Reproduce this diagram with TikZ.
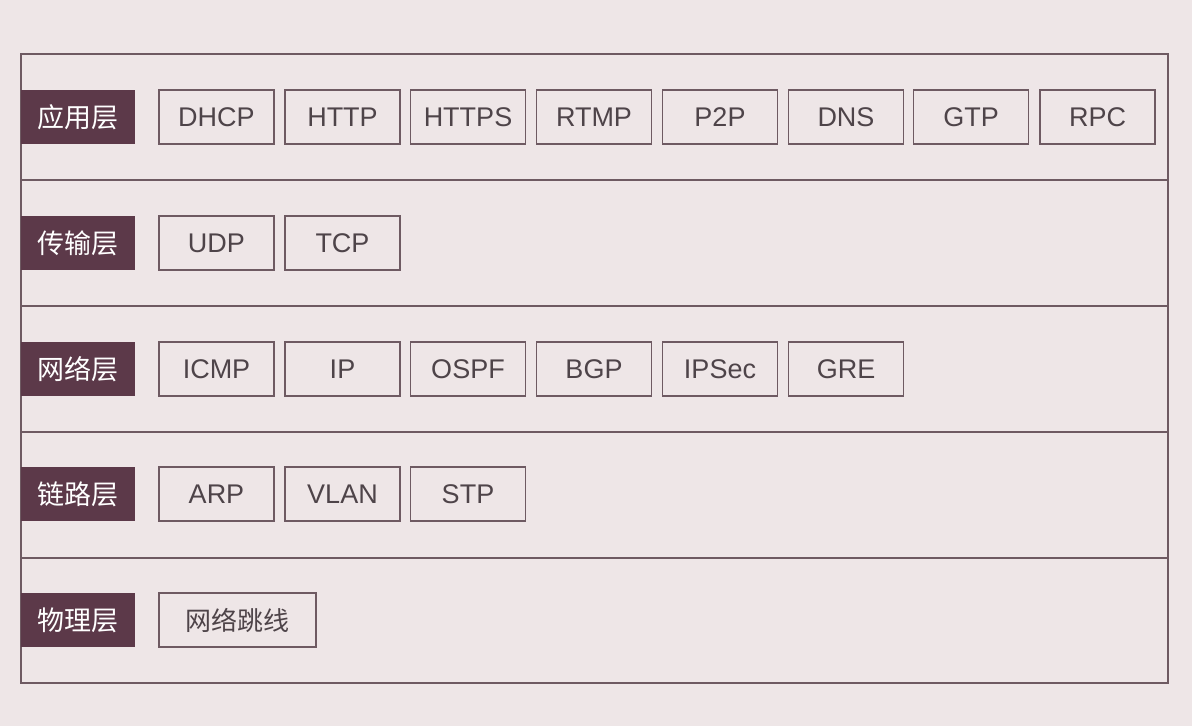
\documentclass[tikz,border=0pt]{standalone}
\usepackage{fontspec}
\setmainfont{Liberation Sans}
\newfontfamily\cjk{Noto Sans CJK SC}
\definecolor{bgc}{HTML}{EEE6E7}
\definecolor{linec}{HTML}{6E5A62}
\definecolor{labc}{HTML}{5C3949}
\definecolor{txtc}{HTML}{4E4449}
\tikzset{
  protobox/.style={draw=linec, line width=1.4pt, minimum width=115pt, minimum height=54pt, inner sep=0pt, text=txtc, font=\fontsize{27pt}{29pt}\selectfont},
  cjkbox/.style={protobox, minimum width=157pt, font=\cjk\fontsize{26pt}{28pt}\selectfont},
  layerlab/.style={fill=labc, minimum width=114pt, minimum height=54pt, inner sep=0pt, text=white, font=\cjk\fontsize{27pt}{29pt}\selectfont},
  frameline/.style={draw=linec, line width=1.4pt}
}
\begin{document}
\begin{tikzpicture}[x=1pt,y=-1pt]
\useasboundingbox[fill=bgc] (0,0) rectangle (1192,726);
\draw[frameline] (21,54) rectangle (1168,683);
\foreach \yy in {180,306,432,558} \draw[frameline] (21,\yy) -- (1168,\yy);
% labels
\node[layerlab] (l1) at (78,117) {应用层};
\node[layerlab] (l2) at (78,243) {传输层};
\node[layerlab] (l3) at (78,369) {网络层};
\node[layerlab] (l4) at (78,494) {链路层};
\node[layerlab] (l5) at (78,620) {物理层};
% row 1
\node[protobox] (dhcp) at (216.5,117) {DHCP};
\node[protobox] (http) at (342.5,117) {HTTP};
\node[protobox] (https) at (468,117) {HTTPS};
\node[protobox] (rtmp) at (594,117) {RTMP};
\node[protobox] (p2p) at (720,117) {P2P};
\node[protobox] (dns) at (846,117) {DNS};
\node[protobox] (gtp) at (971,117) {GTP};
\node[protobox] (rpc) at (1097.5,117) {RPC};
% row 2
\node[protobox] (udp) at (216.5,243) {UDP};
\node[protobox] (tcp) at (342.5,243) {TCP};
% row 3
\node[protobox] (icmp) at (216.5,369) {ICMP};
\node[protobox] (ip) at (342.5,369) {IP};
\node[protobox] (ospf) at (468,369) {OSPF};
\node[protobox] (bgp) at (594,369) {BGP};
\node[protobox] (ipsec) at (720,369) {IPSec};
\node[protobox] (gre) at (846,369) {GRE};
% row 4
\node[protobox] (arp) at (216.5,494) {ARP};
\node[protobox] (vlan) at (342.5,494) {VLAN};
\node[protobox] (stp) at (468,494) {STP};
% row 5
\node[cjkbox] (wire) at (237.5,620) {网络跳线};
\end{tikzpicture}
\end{document}
